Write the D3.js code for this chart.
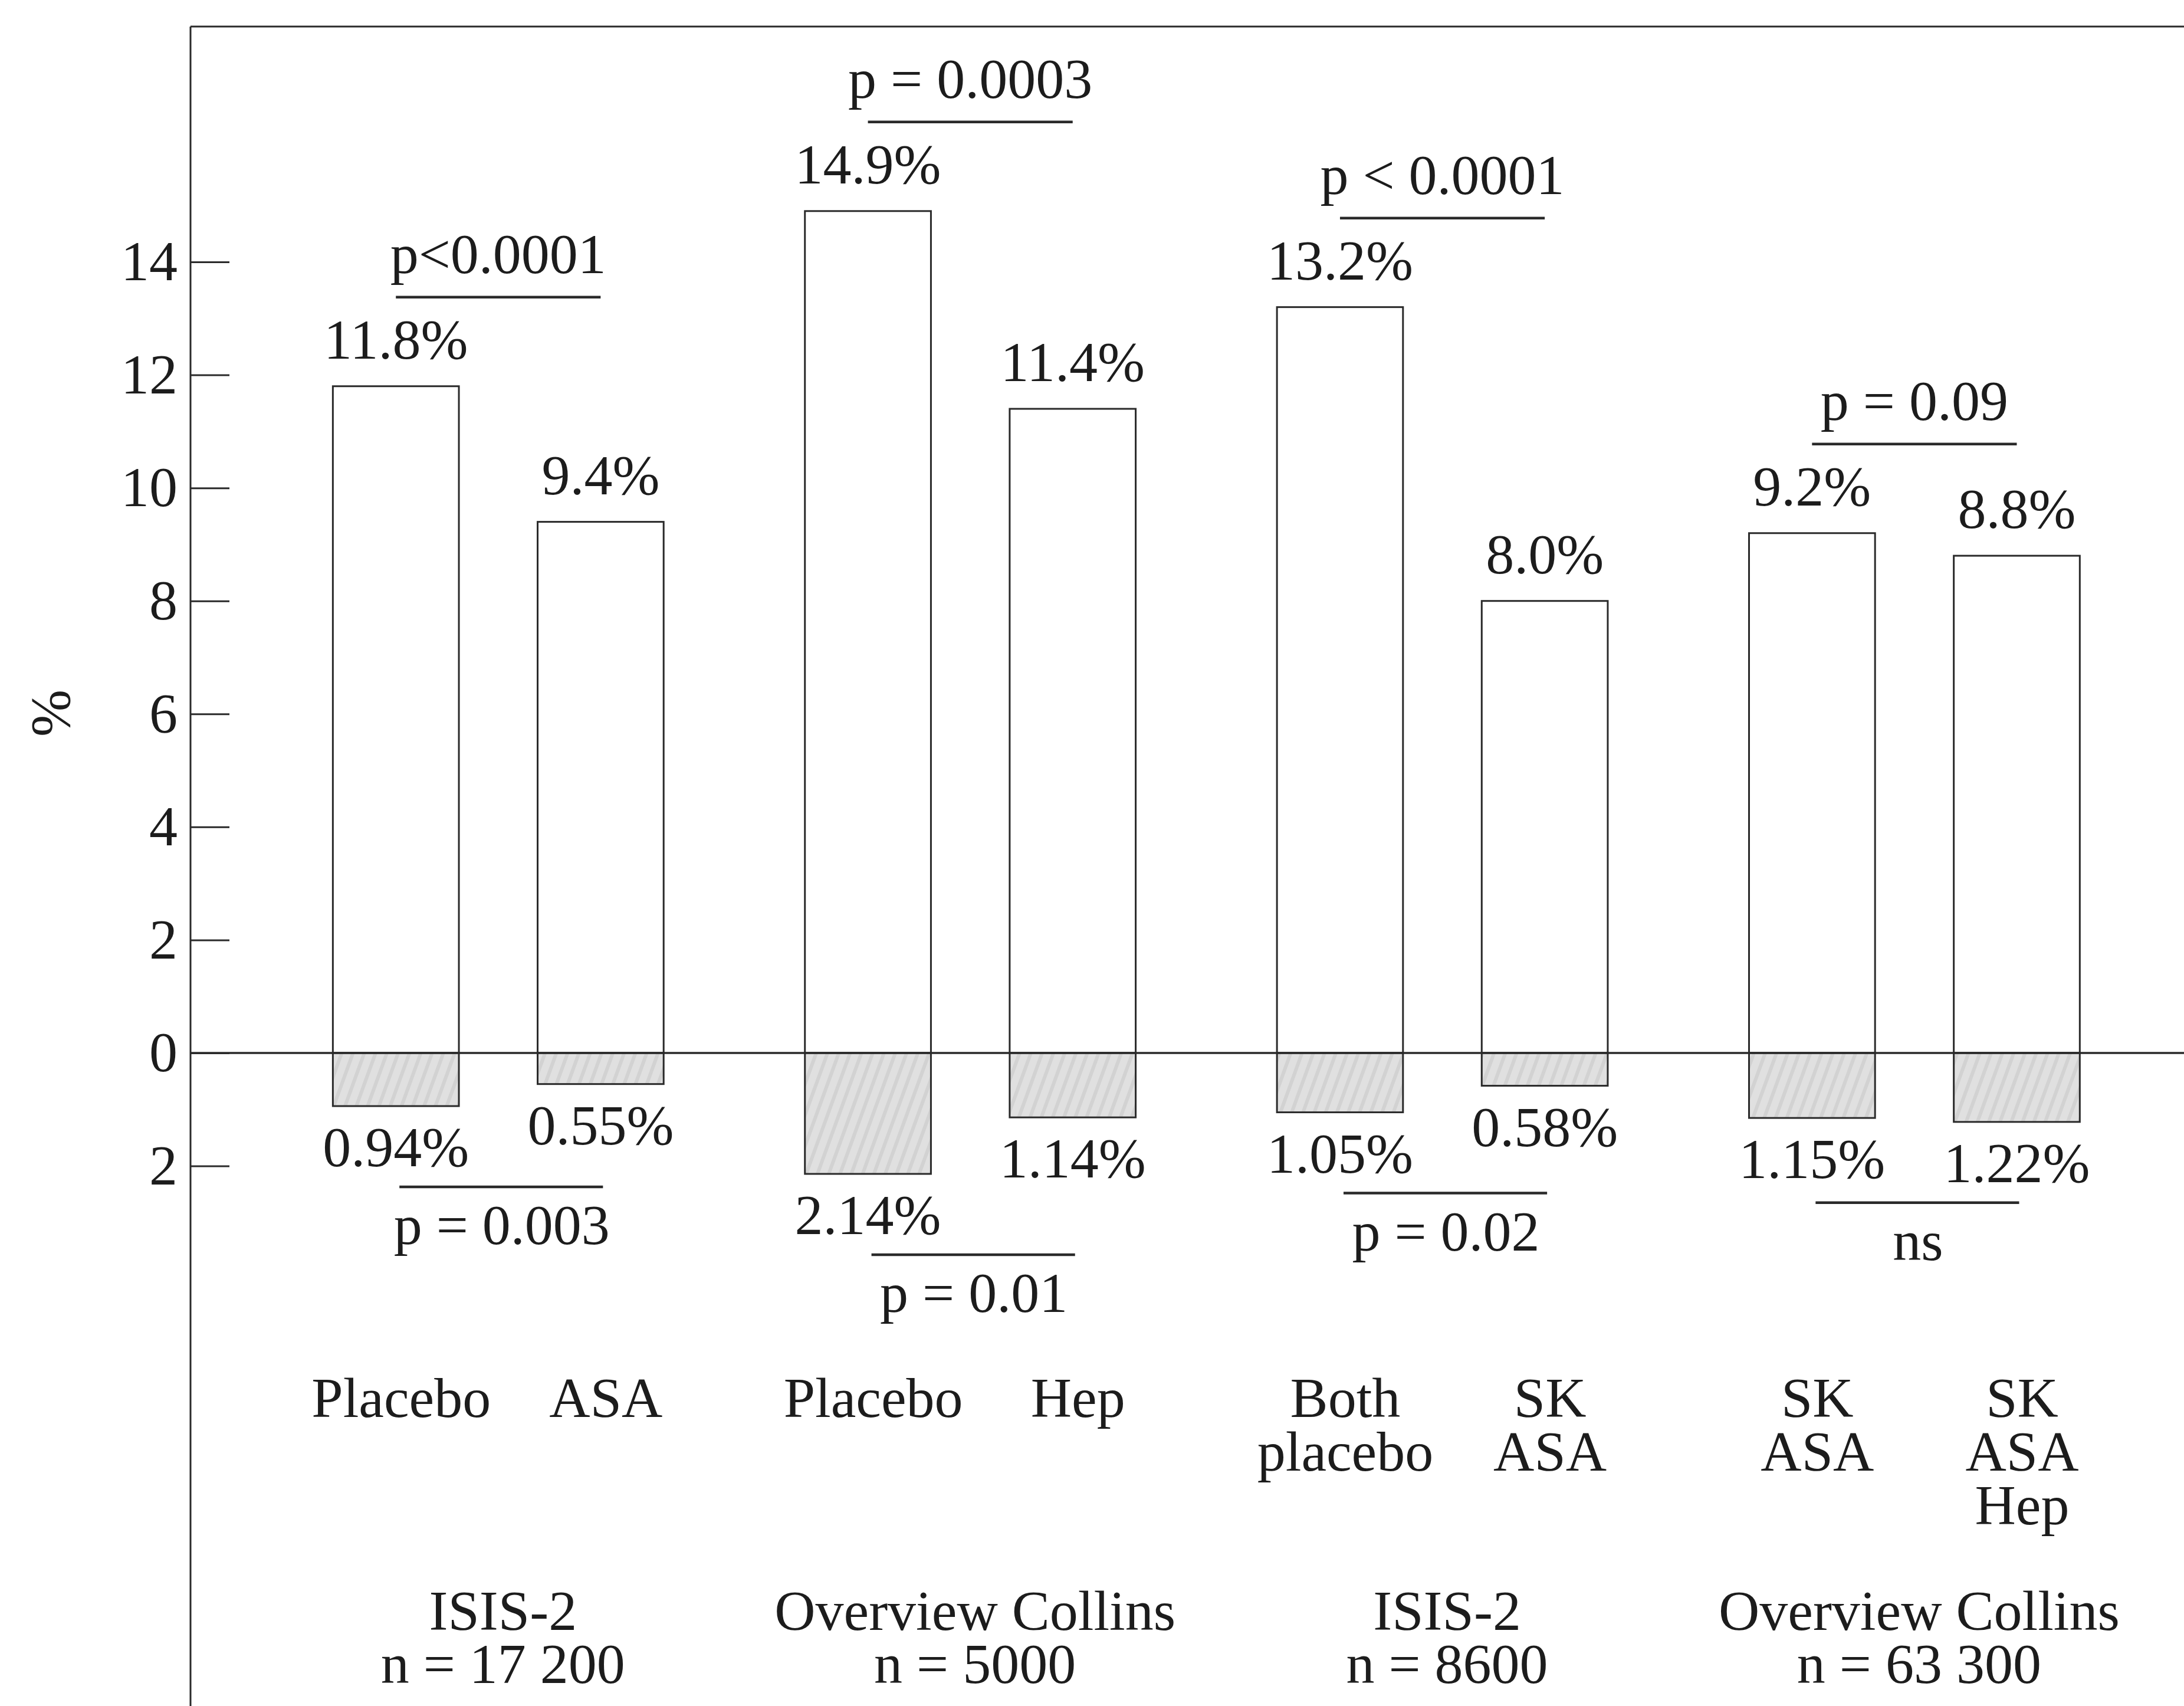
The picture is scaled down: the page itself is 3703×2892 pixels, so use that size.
<!DOCTYPE html>
<html>
<head>
<meta charset="utf-8">
<script src="https://cdn.jsdelivr.net/npm/d3@7"></script>
<style>
  html, body { margin: 0; padding: 0; background: #fff; }
  svg { display: block; }
  text { font-family: "Liberation Serif", "DejaVu Serif", serif; fill: #1c1c1c; }
</style>
</head>
<body>
<svg id="chart"></svg>
<script>
// data
const groupNames = ['ISIS-2', 'Overview Collins', 'ISIS-2', 'Overview Collins'];
const groupSizes = ['n = 17 200', 'n = 5000', 'n = 8600', 'n = 63 300'];
const treatments = [
  ['Placebo'], ['ASA'],
  ['Placebo'], ['Hep'],
  ['Both', 'placebo'], ['SK', 'ASA'],
  ['SK', 'ASA'], ['SK', 'ASA', 'Hep']
];
const upperValues = [11.8, 9.4, 14.9, 11.4, 13.2, 8.0, 9.2, 8.8];
const lowerValues = [0.94, 0.55, 2.14, 1.14, 1.05, 0.58, 1.15, 1.22];
const upperP = ['p<0.0001', 'p = 0.0003', 'p < 0.0001', 'p = 0.09'];
const lowerP = ['p = 0.003', 'p = 0.01', 'p = 0.02', 'ns'];
const yTicks = [-2, 0, 2, 4, 6, 8, 10, 12, 14];

const w = 3703;
const h = 2892;
const axisX = 323;
const topY = 45;
const fontSize = 96;
const ink = '#2a2a2a';

const svg = d3.select('#chart')
    .attr('width', w)
    .attr('height', h);

svg.append('rect')
    .attr('width', w)
    .attr('height', h)
    .attr('fill', '#fff');

// hatch for the lower bars
const pat = svg.append('defs').append('pattern')
    .attr('id', 'hatch')
    .attr('patternUnits', 'userSpaceOnUse')
    .attr('width', 18)
    .attr('height', 18)
    .attr('patternTransform', 'rotate(20)');
pat.append('rect').attr('width', 18).attr('height', 18).attr('fill', '#e0e0e0');
pat.append('rect').attr('width', 6).attr('height', 18).attr('fill', '#d2d2d2');

const yScale = d3.scaleLinear()
    .domain([0, 14])
    .range([1785, 444]);

const groupIdx = d3.range(groupNames.length);
const xGroup = d3.scaleBand()
    .domain(groupIdx)
    .range([444.6, 3646.1])
    .padding(0);

const xBar = d3.scaleBand()
    .domain([0, 1])
    .range([0, xGroup.bandwidth()])
    .paddingInner(0.3845)
    .paddingOuter(0.345);

const bars = upperValues.map((v, i) => {
  const g = Math.floor(i / 2);
  const x = xGroup(g) + xBar(i % 2);
  return { i, g, x, cx: x + xBar.bandwidth() / 2, up: v, down: lowerValues[i], label: treatments[i] };
});

// frame: top border and vertical axis line
svg.append('line')
    .attr('x1', axisX).attr('x2', w)
    .attr('y1', topY).attr('y2', topY)
    .attr('stroke', ink).attr('stroke-width', 3);

svg.append('line')
    .attr('x1', axisX).attr('x2', axisX)
    .attr('y1', topY).attr('y2', h)
    .attr('stroke', ink).attr('stroke-width', 3);

// y axis
const yAxis = d3.axisLeft(yScale)
    .tickValues(yTicks)
    .tickSize(-66)
    .tickPadding(22)
    .tickFormat(d => Math.abs(d));

const ya = svg.append('g')
    .attr('transform', 'translate(' + axisX + ',0)')
    .call(yAxis);
ya.select('.domain').remove();
ya.selectAll('.tick line').attr('stroke', ink).attr('stroke-width', 3);
ya.selectAll('.tick text')
    .attr('font-size', fontSize)
    .attr('font-family', '"Liberation Serif", serif')
    .attr('fill', '#1c1c1c');

svg.append('text')
    .attr('transform', 'translate(118,1209) rotate(-90)')
    .attr('text-anchor', 'middle')
    .attr('font-size', fontSize)
    .text('%');

// upper bars
svg.selectAll('rect.up')
    .data(bars)
    .enter()
    .append('rect')
    .attr('class', 'up')
    .attr('x', d => d.x)
    .attr('y', d => yScale(d.up))
    .attr('width', xBar.bandwidth())
    .attr('height', d => yScale(0) - yScale(d.up))
    .attr('fill', '#fff')
    .attr('stroke', ink)
    .attr('stroke-width', 3);

// lower bars hang below zero
svg.selectAll('rect.down')
    .data(bars)
    .enter()
    .append('rect')
    .attr('class', 'down')
    .attr('x', d => d.x)
    .attr('y', yScale(0))
    .attr('width', xBar.bandwidth())
    .attr('height', d => yScale(-d.down) - yScale(0))
    .attr('fill', 'url(#hatch)')
    .attr('stroke', ink)
    .attr('stroke-width', 3);

// zero line
svg.append('line')
    .attr('x1', axisX).attr('x2', w)
    .attr('y1', yScale(0)).attr('y2', yScale(0))
    .attr('stroke', ink).attr('stroke-width', 3.5);

// value labels
svg.selectAll('text.upv')
    .data(bars)
    .enter()
    .append('text')
    .attr('class', 'upv')
    .attr('x', d => d.cx)
    .attr('y', d => yScale(d.up) - 47)
    .attr('text-anchor', 'middle')
    .attr('font-size', fontSize)
    .text(d => d3.format('.1f')(d.up) + '%');

svg.selectAll('text.downv')
    .data(bars)
    .enter()
    .append('text')
    .attr('class', 'downv')
    .attr('x', d => d.cx)
    .attr('y', d => yScale(-d.down) + 102)
    .attr('text-anchor', 'middle')
    .attr('font-size', fontSize)
    .text(d => d3.format('.2f')(d.down) + '%');

// significance brackets
groupIdx.forEach(g => {
  const a = bars[g * 2], b = bars[g * 2 + 1];
  const mid = (a.cx + b.cx) / 2;
  const topLine = yScale(Math.max(a.up, b.up)) - 151;
  const botLine = yScale(-Math.max(a.down, b.down)) + 137;

  svg.append('line')
      .attr('x1', a.cx).attr('x2', b.cx)
      .attr('y1', topLine).attr('y2', topLine)
      .attr('stroke', ink).attr('stroke-width', 4.5);
  svg.append('text')
      .attr('x', mid)
      .attr('y', topLine - 41)
      .attr('text-anchor', 'middle')
      .attr('font-size', fontSize)
      .text(upperP[g]);

  svg.append('line')
      .attr('x1', a.cx + 6).attr('x2', b.cx + 4)
      .attr('y1', botLine).attr('y2', botLine)
      .attr('stroke', ink).attr('stroke-width', 4.5);
  svg.append('text')
      .attr('x', mid + 6)
      .attr('y', botLine + 97)
      .attr('text-anchor', 'middle')
      .attr('font-size', fontSize)
      .text(lowerP[g]);

  // study names under each group
  const gt = svg.append('text')
      .attr('x', mid + 8)
      .attr('y', 2763)
      .attr('text-anchor', 'middle')
      .attr('font-size', fontSize);
  gt.append('tspan').attr('x', mid + 8).text(groupNames[g]);
  gt.append('tspan').attr('x', mid + 8).attr('dy', 90).text(groupSizes[g]);
});

// treatment labels
svg.selectAll('text.cat')
    .data(bars)
    .enter()
    .append('text')
    .attr('class', 'cat')
    .attr('text-anchor', 'middle')
    .attr('font-size', fontSize)
    .attr('y', 2402)
    .each(function(d) {
      d3.select(this).selectAll('tspan')
          .data(d.label)
          .enter()
          .append('tspan')
          .attr('x', d.cx + 9)
          .attr('dy', (s, k) => k === 0 ? 0 : 91)
          .text(s => s);
    });
</script>
</body>
</html>
